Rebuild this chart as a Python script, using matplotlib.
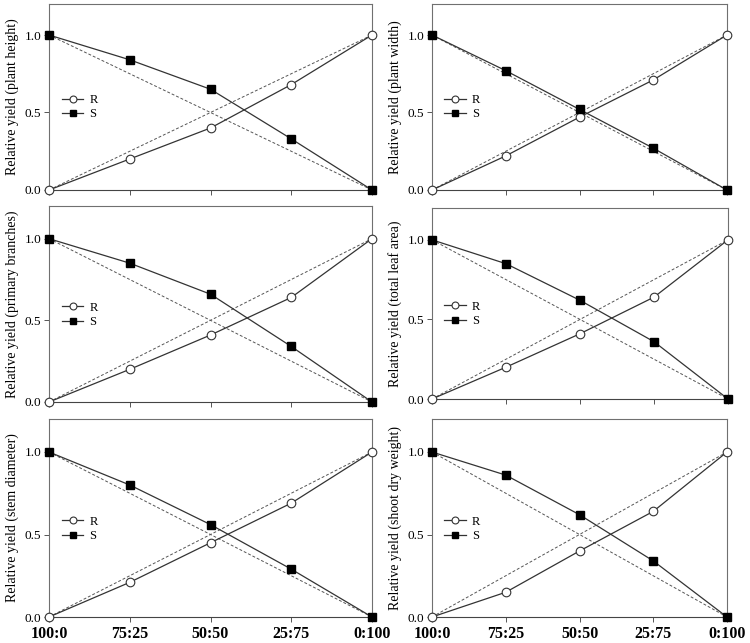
import matplotlib
matplotlib.use("Agg")
import matplotlib.pyplot as plt

plt.rcParams['font.family'] = ['Liberation Serif', 'DejaVu Serif']

ratios = ["100:0", "75:25", "50:50", "25:75", "0:100"]
xpos = [0, 1, 2, 3, 4]

labels = [
    "Relative yield (plant height)",
    "Relative yield (plant width)",
    "Relative yield (primary branches)",
    "Relative yield (total leaf area)",
    "Relative yield (stem diameter)",
    "Relative yield (shoot dry weight)",
]

R_height = [0.0, 0.20, 0.40, 0.68, 1.0]
S_height = [1.0, 0.84, 0.65, 0.33, 0.0]
R_width = [0.0, 0.22, 0.47, 0.71, 1.0]
S_width = [1.0, 0.77, 0.52, 0.27, 0.0]
R_branches = [0.0, 0.20, 0.41, 0.64, 1.0]
S_branches = [1.0, 0.85, 0.66, 0.34, 0.0]
R_leaf = [0.0, 0.20, 0.41, 0.64, 1.0]
S_leaf = [1.0, 0.85, 0.62, 0.36, 0.0]
R_stem = [0.0, 0.21, 0.45, 0.69, 1.0]
S_stem = [1.0, 0.80, 0.56, 0.29, 0.0]
R_shoot = [0.0, 0.15, 0.40, 0.64, 1.0]
S_shoot = [1.0, 0.86, 0.62, 0.34, 0.0]

expected_R = [0.0, 0.25, 0.5, 0.75, 1.0]
expected_S = [1.0, 0.75, 0.5, 0.25, 0.0]

R_all = [R_height, R_width, R_branches, R_leaf, R_stem, R_shoot]
S_all = [S_height, S_width, S_branches, S_leaf, S_stem, S_shoot]

W, H = 750, 643
fig = plt.figure(figsize=(W / 100, H / 100), dpi=100)

# pixel boxes: (left, right, top, bottom)
boxes = [
    (49, 372, 4, 190), (432, 727, 4, 190),
    (49, 372, 206, 402), (432, 728, 208, 399),
    (49, 372, 419, 617), (432, 727, 419, 617),
]

spine_col = '#707070'
for i, (l, r, t, b) in enumerate(boxes):
    ax = fig.add_axes([l / W, 1 - b / H, (r - l) / W, (b - t) / H])
    ax.plot(xpos, expected_R, ls=(0, (3, 2)), color='#555555', lw=0.7)
    ax.plot(xpos, expected_S, ls=(0, (3, 2)), color='#555555', lw=0.7)
    ax.plot(xpos, R_all[i], color='#333333', lw=0.9, marker='o', ms=6.2,
            mfc='white', mec='#333333', mew=0.8, label='R', clip_on=False, zorder=3)
    ax.plot(xpos, S_all[i], color='#333333', lw=0.9, marker='s', ms=6.2,
            mfc='black', mec='black', label='S', clip_on=False, zorder=3)
    ax.set_xlim(0, 4)
    ax.set_ylim(0, 1.2)
    ax.set_yticks([0.0, 0.5, 1.0])
    ax.set_yticklabels(['0.0', '0.5', '1.0'], fontsize=9.5)
    ax.set_xticks(xpos)
    if i >= 4:
        ax.set_xticklabels(ratios, fontsize=11.5, fontweight='bold')
    else:
        ax.set_xticklabels([])
    ax.tick_params(axis='both', direction='out', length=3.5, width=0.7,
                   color='#555555', pad=2)
    ax.tick_params(axis='x', pad=3)
    for s in ax.spines.values():
        s.set_color(spine_col)
        s.set_linewidth(0.8)
    ax.spines['bottom'].set_color('#444444')
    ax.set_ylabel(labels[i], fontsize=10, labelpad=4)
    ax.legend(loc='center left', bbox_to_anchor=(0.025, 0.445), frameon=False,
              fontsize=9, handlelength=1.7, handletextpad=0.5, labelspacing=0.2,
              borderaxespad=0, markerscale=0.8)

fig.savefig('out.png', dpi=100)
